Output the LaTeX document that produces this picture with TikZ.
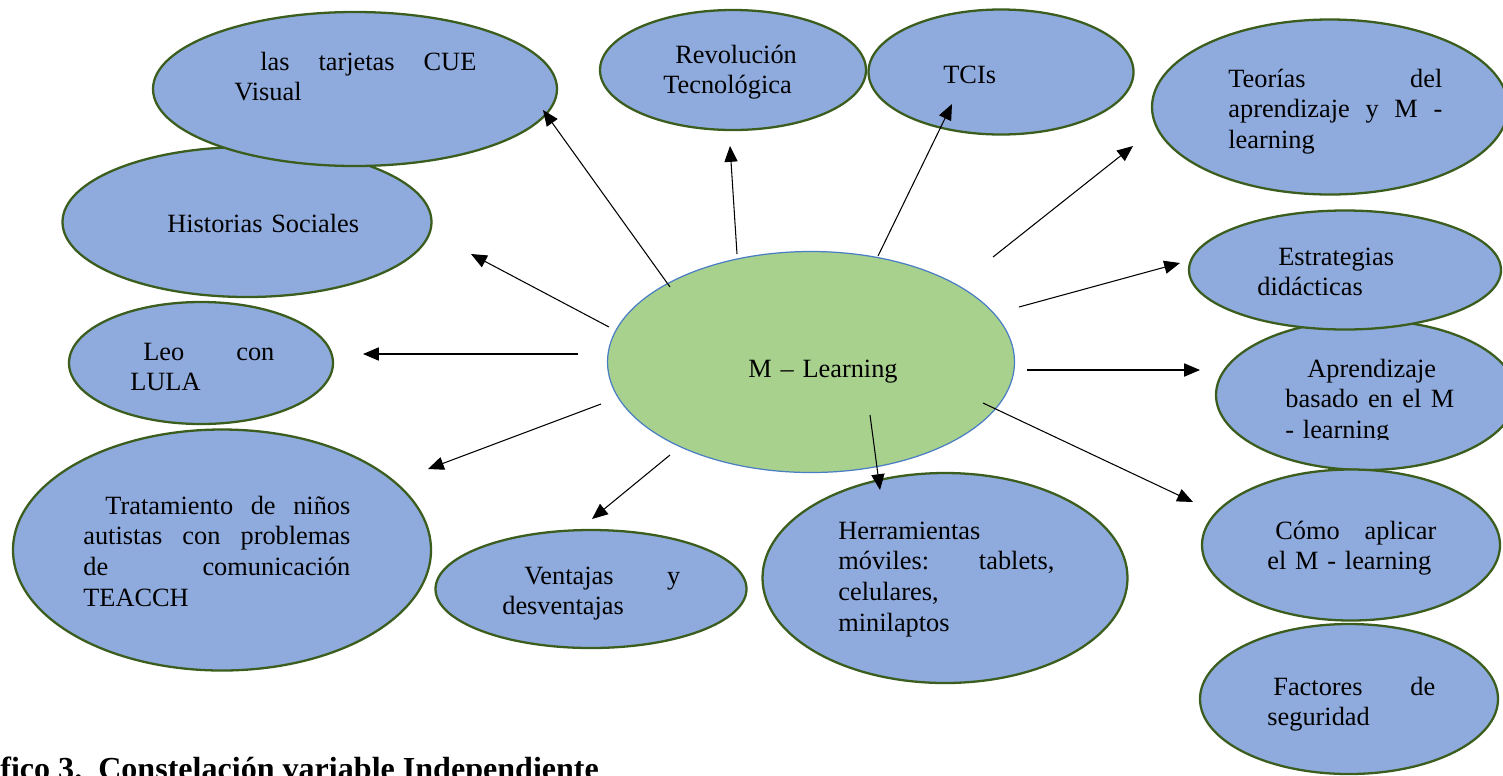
\documentclass[tikz,border=0pt]{standalone}
\usepackage{fontspec}
\setmainfont{Liberation Serif}
\usetikzlibrary{shapes.geometric,arrows.meta}
\definecolor{bluefill}{HTML}{8FAADC}
\definecolor{greenedge}{HTML}{3B5E1F}
\definecolor{greenfill}{HTML}{A9D18E}
\definecolor{blueedge}{HTML}{4A7EC4}
\newcommand\jline[2]{\makebox[\dimexpr0.02cm*#1\relax][s]{\spaceskip=0.25em plus 1fil\relax\xspaceskip=0.25em plus 1fil\relax #2}}
\newcommand\indnt[1]{\hspace*{\dimexpr0.02cm*#1\relax}}
\tikzset{
  bub/.style 2 args={ellipse, draw=greenedge, line width=1.3pt, fill=bluefill,
    minimum width=#1*0.02cm, minimum height=#2*0.02cm, inner sep=0pt},
  core/.style 2 args={ellipse, draw=blueedge, line width=0.7pt, fill=greenfill,
    minimum width=#1*0.02cm, minimum height=#2*0.02cm, inner sep=0pt},
  txt/.style={anchor=base west, inner sep=0pt, text width=8cm, align=left,
    font=\fontsize{15}{17.5}\selectfont},
  arr/.style={line width=0.6pt, -{Triangle[length=9pt,width=7.5pt]}},
}
\begin{document}
\begin{tikzpicture}[x=0.02cm,y=-0.02cm]
\useasboundingbox (0,0) rectangle (1503,775);
\clip (0,0) rectangle (1503,775);
% ellipses
\node[bub={369}{150}] (his) at (247,222) {};
\node[bub={404}{154}] (cue) at (355,89) {};
\node[bub={266}{120}] (rev) at (733,70) {};
\node[bub={265}{125}] (tci) at (1001,72) {};
\node[bub={356}{175}] (teo) at (1330,107) {};
\node[bub={300}{150}] (apr) at (1366,395) {};
\node[bub={312}{119}] (est) at (1345,270) {};
\node[bub={264}{122}] (leo) at (201,363) {};
\node[bub={418}{241}] (tra) at (222,550) {};
\node[bub={311}{118}] (ven) at (591,589) {};
\node[bub={365}{210}] (her) at (945,578) {};
\node[bub={298}{151}] (com) at (1351,545) {};
\node[bub={298}{150}] (fac) at (1349,699) {};
\node[core={407}{221}] (ml) at (811,362) {};
% texts
\node[txt] (tcue) at (234,70) {\indnt{26}\jline{216}{las tarjetas CUE}\\Visual};
\node[txt] (trev) at (663,63) {\indnt{12}Revolución\\Tecnológica};
\node[txt] (ttci) at (943,83) {TCIs};
\node[txt] (tteo) at (1228,87) {\jline{214}{Teorías del}\\\jline{214}{aprendizaje y M -}\\learning};
\node[txt] (this) at (167,232) {Historias Sociales};
\node[txt] (test) at (1257,265) {\indnt{21}Estrategias\\didácticas};
\node[txt] (tleo) at (130,360) {\indnt{13}\jline{131}{Leo con}\\LULA};
\node[txt] (tml) at (748,377) {M – Learning};
\begin{scope}
\clip (1200,340) rectangle (1503,439);
\node[txt] (tapr) at (1285,377) {\indnt{22}Aprendizaje\\\jline{169}{basado en el M}\\- learning};
\end{scope}
\node[txt] (ttra) at (83,514) {\indnt{22}\jline{245}{Tratamiento de niños}\\\jline{267}{autistas con problemas}\\\jline{267}{de comunicación}\\TEACCH};
\node[txt] (tven) at (502,584) {\indnt{22}\jline{156}{Ventajas y}\\desventajas};
\node[txt] (ther) at (838,539) {Herramientas\\\jline{216}{móviles: tablets,}\\celulares,\\minilaptos};
\node[txt] (tcom) at (1267,539) {\indnt{8}\jline{161}{Cómo aplicar}\\el M - learning};
\node[txt] (tfac) at (1267,695) {\indnt{6}\jline{162}{Factores de}\\seguridad};
% arrows
\coordinate (s1) at (670,287); \coordinate (e1) at (543,110);
\coordinate (s2) at (737,254); \coordinate (e2) at (730,146);
\coordinate (s3) at (878,256); \coordinate (e3) at (952,104);
\coordinate (s4) at (993,257); \coordinate (e4) at (1133,146);
\coordinate (s5) at (609,327); \coordinate (e5) at (471,254);
\coordinate (s6) at (1019,307); \coordinate (e6) at (1180,263);
\coordinate (s7) at (578,354); \coordinate (e7) at (363,354);
\coordinate (s8) at (1027,370); \coordinate (e8) at (1200,370);
\coordinate (s9) at (601,404); \coordinate (e9) at (428,469);
\coordinate (s10) at (670,455); \coordinate (e10) at (592,519);
\coordinate (s11) at (870,415); \coordinate (e11) at (880,490);
\coordinate (s12) at (983,403); \coordinate (e12) at (1193,502);
\foreach \i in {1,...,12} { \draw[arr] (s\i) -- (e\i); }
% caption
\node[anchor=base west, inner sep=0pt, font=\bfseries\fontsize{18.25}{20}\selectfont] (cap) at (0,779) {fico 3.\ \ Constelación variable Independiente};
\end{tikzpicture}
\end{document}
